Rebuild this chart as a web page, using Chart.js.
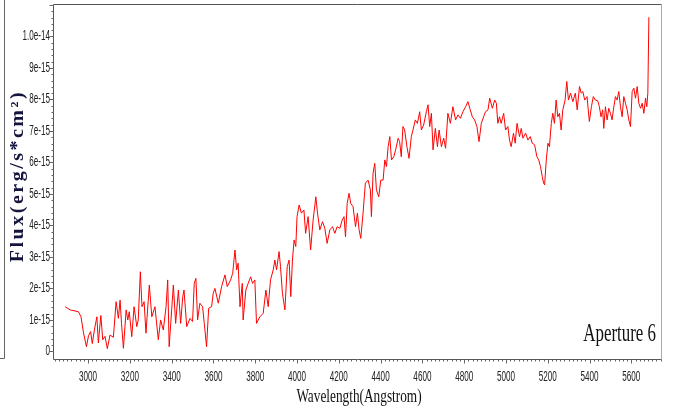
<!DOCTYPE html>
<html lang="en">
<head>
  <meta charset="UTF-8" />
  <title>Aperture 6 spectrum</title>
  <script src="https://cdn.jsdelivr.net/npm/chart.js"></script>
  <style>
    body { margin: 0; background: #fff; }
    #wrap { width: 675px; height: 419px; }
  </style>
</head>
<body>
  <div id="wrap"><canvas id="spec" width="675" height="419"></canvas></div>
  <script>
    // Spectrum samples: wavelength in Angstrom, flux in units of 1e-15 erg/s/cm2
    const wavelength = [
      2890, 2914, 2954, 2966, 2978, 2992, 3002, 3012, 3020, 3030, 3042, 3049, 3061, 3070, 3081, 3092,
      3105, 3121, 3134, 3145, 3153, 3160, 3169, 3182, 3190, 3197, 3209, 3220, 3233, 3240, 3250, 3258,
      3268, 3277, 3288, 3293, 3305, 3320, 3336, 3347, 3360, 3373, 3381, 3388, 3400, 3408, 3419, 3432,
      3443, 3453, 3459, 3472, 3488, 3500, 3508, 3516, 3524, 3535, 3548, 3556, 3567, 3577, 3591, 3599,
      3607, 3623, 3639, 3655, 3666, 3682, 3692, 3703, 3711, 3718, 3727, 3738, 3742, 3755, 3766, 3778,
      3787, 3798, 3806, 3822, 3838, 3851, 3862, 3873, 3886, 3894, 3902, 3914, 3921, 3930, 3942, 3953,
      3962, 3970, 3978, 3986, 3994, 4000, 4010, 4021, 4033, 4041, 4053, 4065, 4077, 4090, 4098, 4109,
      4122, 4133, 4144, 4157, 4170, 4181, 4192, 4205, 4216, 4225, 4232, 4240, 4249, 4257, 4268, 4280,
      4289, 4297, 4305, 4316, 4327, 4340, 4351, 4356, 4364, 4372, 4380, 4391, 4401, 4412, 4420, 4428,
      4436, 4444, 4452, 4463, 4472, 4484, 4491, 4499, 4507, 4515, 4526, 4536, 4547, 4555, 4566, 4576,
      4587, 4595, 4606, 4619, 4627, 4635, 4643, 4651, 4662, 4672, 4680, 4691, 4702, 4711, 4722, 4734,
      4746, 4759, 4770, 4782, 4794, 4807, 4818, 4829, 4839, 4850, 4861, 4871, 4882, 4893, 4902, 4914,
      4922, 4935, 4946, 4954, 4961, 4969, 4977, 4989, 4998, 5009, 5017, 5025, 5036, 5044, 5053, 5065,
      5073, 5081, 5094, 5105, 5116, 5126, 5137, 5148, 5157, 5165, 5174, 5180, 5185, 5193, 5201, 5208,
      5217, 5224, 5232, 5240, 5248, 5256, 5264, 5272, 5283, 5291, 5299, 5309, 5320, 5332, 5341, 5352,
      5360, 5368, 5377, 5388, 5399, 5409, 5418, 5428, 5439, 5447, 5455, 5463, 5468, 5476, 5484, 5492,
      5500, 5508, 5514, 5524, 5532, 5540, 5548, 5556, 5564, 5572, 5580, 5588, 5596, 5604, 5612, 5620,
      5628, 5636, 5644, 5652, 5660, 5668, 5674, 5679, 5684
    ];
    const flux = [
      1.42, 1.32, 1.26, 1.10, 0.59, 0.15, 0.50, 0.63, 0.25, 0.68, 1.10, 0.27, 1.14, 0.37, 0.48, 0.09,
      0.52, 0.45, 1.58, 1.05, 1.63, 0.89, 0.10, 1.32, 1.00, 1.26, 0.47, 1.42, 0.79, 1.00, 2.53, 1.42,
      1.58, 0.58, 1.63, 2.11, 1.10, 1.42, 0.37, 1.00, 0.68, 1.42, 2.27, 0.15, 1.32, 2.11, 0.89, 1.95,
      0.89, 1.74, 1.95, 0.79, 1.05, 0.95, 2.16, 2.32, 1.00, 1.53, 1.42, 0.89, 0.15, 1.37, 1.42, 1.85,
      2.00, 1.53, 2.06, 2.43, 2.06, 2.27, 2.48, 3.22, 2.59, 2.80, 1.42, 2.16, 1.00, 1.95, 2.16, 2.37,
      2.16, 2.27, 0.89, 1.10, 1.21, 1.95, 1.42, 2.27, 2.59, 2.90, 2.59, 3.17, 2.69, 1.85, 1.32, 2.69,
      2.90, 1.74, 2.90, 3.54, 3.33, 4.28, 4.65, 4.39, 4.49, 3.75, 4.28, 3.22, 4.17, 4.91, 4.39, 3.86,
      4.12, 3.91, 3.43, 3.86, 3.96, 3.75, 3.96, 3.91, 4.17, 4.28, 3.64, 4.70, 5.02, 4.70, 4.60, 3.96,
      4.39, 3.86, 3.59, 4.39, 5.34, 5.44, 5.13, 4.28, 5.66, 5.97, 5.13, 4.91, 5.44, 5.44, 6.08, 5.87,
      6.50, 6.82, 6.08, 6.18, 6.40, 6.77, 6.66, 6.18, 7.14, 7.03, 6.50, 6.13, 6.82, 7.03, 7.35, 7.24,
      7.61, 7.03, 7.19, 7.61, 7.83, 7.14, 7.56, 6.40, 7.08, 6.50, 7.03, 6.50, 6.77, 6.45, 7.56, 7.24,
      7.77, 7.35, 7.51, 7.40, 7.61, 7.77, 7.93, 7.67, 7.45, 7.35, 7.14, 6.66, 7.24, 7.45, 7.61, 7.67,
      8.04, 7.72, 7.98, 7.88, 7.24, 7.45, 7.24, 7.56, 7.03, 7.14, 6.71, 6.50, 6.93, 6.61, 7.24, 6.82,
      7.08, 6.77, 6.93, 6.71, 6.82, 6.61, 6.56, 6.18, 6.08, 5.87, 5.55, 5.34, 5.29, 6.08, 6.61, 6.50,
      7.24, 7.56, 7.24, 7.98, 7.45, 7.56, 7.03, 7.67, 7.98, 8.57, 7.98, 8.20, 7.93, 8.20, 7.67, 8.41,
      8.20, 8.25, 7.98, 8.09, 7.30, 7.77, 8.09, 7.98, 7.96, 7.77, 7.45, 7.67, 7.08, 7.77, 7.35, 7.72,
      7.56, 7.35, 7.67, 8.09, 7.98, 8.25, 7.77, 7.45, 8.09, 7.88, 7.67, 7.35, 7.14, 8.25, 8.36, 8.04,
      8.41, 7.88, 7.72, 7.88, 7.56, 8.04, 7.77, 8.20, 10.61
    ];

    // Axis ticks
    const xTicks = [3000, 3200, 3400, 3600, 3800, 4000, 4200, 4400, 4600, 4800, 5000, 5200, 5400, 5600];
    const yTicks = [0, 1, 2, 3, 4, 5, 6, 7, 8, 9, 10];
    const yTickLabels = ['0', '1e-15', '2e-15', '3e-15', '4e-15', '5e-15', '6e-15', '7e-15', '8e-15', '9e-15', '1.0e-14'];

    const points = wavelength.map((w, i) => ({ x: w, y: flux[i] }));

    // narrow text: the plot's fonts are horizontally condensed
    function squeezed(ctx, text, x, y, sx, align) {
      ctx.save();
      ctx.translate(x, y);
      ctx.scale(sx, 1);
      ctx.textAlign = align;
      ctx.fillText(text, 0, 0);
      ctx.restore();
    }

    // frame, tick marks and all labels
    const framePlugin = {
      id: 'frame',
      afterDraw(chart) {
        const { ctx, chartArea: a, scales: { x, y } } = chart;
        const L = Math.round(a.left) + 0.5, R = Math.round(a.right) + 0.5;
        const T = Math.round(a.top) + 0.5, B = Math.round(a.bottom) + 0.5;
        ctx.save();
        ctx.lineWidth = 1;

        // outer rule on the far left
        ctx.strokeStyle = '#666';
        ctx.beginPath();
        ctx.moveTo(4.5, 0); ctx.lineTo(4.5, 358.5); ctx.lineTo(0, 358.5);
        ctx.stroke();

        // plot box
        ctx.strokeStyle = '#555';
        ctx.beginPath();
        ctx.moveTo(L, T); ctx.lineTo(R, T);
        ctx.moveTo(L, T); ctx.lineTo(L, B); ctx.lineTo(R, B);
        ctx.stroke();
        ctx.strokeStyle = '#aaa';
        ctx.beginPath();
        ctx.moveTo(R, T); ctx.lineTo(R, B);
        ctx.stroke();

        // minor + major ticks
        ctx.strokeStyle = '#666';
        ctx.beginPath();
        for (let v = 2840; v <= 5740; v += 20) {
          const px = Math.round(x.getPixelForValue(v)) + 0.5;
          const len = v % 200 === 0 ? 4 : 2;
          ctx.moveTo(px, B); ctx.lineTo(px, B + len);
        }
        for (let v = 0; v <= 11; v += 0.2) {
          const py = Math.round(y.getPixelForValue(v)) + 0.5;
          const len = Math.abs(v - Math.round(v)) < 0.01 ? 4 : 2;
          ctx.moveTo(L, py); ctx.lineTo(L - len, py);
        }
        ctx.stroke();

        // tick labels
        ctx.fillStyle = '#222';
        ctx.font = '14px "Liberation Sans", Arial, sans-serif';
        ctx.textBaseline = 'middle';
        yTicks.forEach((v, i) => {
          squeezed(ctx, yTickLabels[i], a.left - 3, y.getPixelForValue(v), 0.58, 'right');
        });
        xTicks.forEach(v => {
          squeezed(ctx, String(v), x.getPixelForValue(v), a.bottom + 18, 0.58, 'center');
        });

        // x title
        ctx.fillStyle = '#111';
        ctx.textBaseline = 'alphabetic';
        ctx.font = '19px "Liberation Serif", "Times New Roman", serif';
        squeezed(ctx, 'Wavelength(Angstrom)', (a.left + a.right) / 2 + 2, 402, 0.7, 'center');

        // y title
        ctx.save();
        ctx.translate(18, 176);
        ctx.rotate(-Math.PI / 2);
        ctx.scale(1, 0.9);
        ctx.fillStyle = '#14143c';
        ctx.font = 'bold 20px "Liberation Serif", serif';
        ctx.letterSpacing = '2.5px';
        ctx.textAlign = 'center';
        ctx.textBaseline = 'middle';
        ctx.fillText('Flux(erg/s*cm²)', 0, 0);
        ctx.restore();

        // aperture tag
        ctx.fillStyle = '#111';
        ctx.font = '26px "Liberation Serif", "Times New Roman", serif';
        squeezed(ctx, 'Aperture 6', 656, 341, 0.65, 'right');

        ctx.restore();
      }
    };

    const ctx = document.getElementById('spec').getContext('2d');
    new Chart(ctx, {
      type: 'line',
      data: {
        datasets: [{
          data: points,
          borderColor: '#ff0000',
          borderWidth: 1,
          pointRadius: 0,
          tension: 0,
          fill: false
        }]
      },
      options: {
        responsive: false,
        animation: false,
        events: [],
        layout: { padding: { left: 0, top: 4, right: 14, bottom: 0 } },
        plugins: { legend: { display: false }, tooltip: { enabled: false } },
        scales: {
          x: {
            type: 'linear',
            min: 2832,
            max: 5742,
            grid: { display: false },
            border: { display: false },
            ticks: { display: false },
            afterBuildTicks: s => { s.ticks = xTicks.map(v => ({ value: v })); },
            afterFit: s => { s.height = 60; }
          },
          y: {
            type: 'linear',
            min: -0.24,
            max: 11.03,
            grid: { display: false },
            border: { display: false },
            ticks: { display: false },
            afterBuildTicks: s => { s.ticks = yTicks.map(v => ({ value: v })); },
            afterFit: s => { s.width = 53; }
          }
        }
      },
      plugins: [framePlugin]
    });
  </script>
</body>
</html>
